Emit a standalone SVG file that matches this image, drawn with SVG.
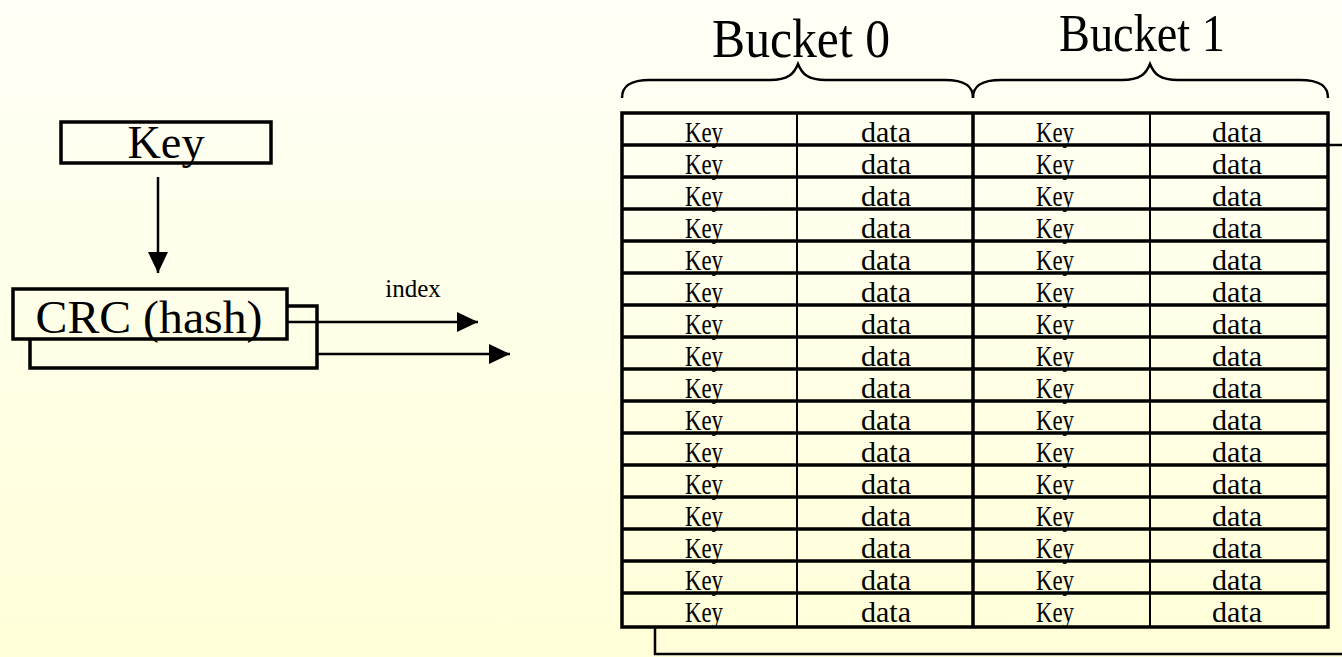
<svg xmlns="http://www.w3.org/2000/svg" width="1342" height="657" viewBox="0 0 1342 657">
<defs>
<linearGradient id="bg" gradientUnits="userSpaceOnUse" x1="0" y1="0" x2="0" y2="657">
<stop offset="0" stop-color="#FFFFF7"/>
<stop offset="1" stop-color="#FFFED8"/>
</linearGradient>
<marker id="ah" markerUnits="userSpaceOnUse" markerWidth="21" markerHeight="20" refX="21" refY="10" orient="auto">
<path d="M0,0 L21,10 L0,20 z" fill="#000"/>
</marker>
<style>
.t{font-family:"Liberation Serif","Times New Roman",serif;fill:#000}
.box{fill:url(#bg);stroke:#000;stroke-width:3.5}
.ln{fill:none;stroke:#000;stroke-width:2.5}
.c{font-family:"Liberation Serif","Times New Roman",serif;font-size:30px;text-anchor:middle;fill:#000}
.thin{stroke:#000;stroke-width:2}
.thick{stroke:#000;stroke-width:3.5}
</style>
</defs>
<rect x="0" y="0" width="1342" height="657" fill="url(#bg)"/>

<g id="key-node">
<rect class="box" x="61" y="122" width="210" height="41"/>
<text class="t" x="166" y="158" font-size="47" text-anchor="middle" textLength="77" lengthAdjust="spacingAndGlyphs">Key</text>
</g>

<g id="crc-node">
<rect class="box" x="30" y="306" width="287" height="62"/>
<rect class="box" x="13" y="289" width="274" height="50"/>
<text class="t" x="149" y="333" font-size="47" text-anchor="middle" textLength="227" lengthAdjust="spacingAndGlyphs">CRC (hash)</text>
</g>

<g id="index-label">
<text class="t" x="413" y="297" font-size="25" text-anchor="middle">index</text>
</g>

<g id="bucket-headers">
<text class="t" x="801" y="57" font-size="54" text-anchor="middle" textLength="178" lengthAdjust="spacingAndGlyphs">Bucket 0</text>
<text class="t" x="1142" y="51" font-size="52" text-anchor="middle" textLength="166" lengthAdjust="spacingAndGlyphs">Bucket 1</text>
<path class="ln" d="M622,98 C622,86 630,80 650,80 L770,80 C788,80 794,74 798,64 C802,74 808,80 826,80 L945,80 C965,80 973,86 973,98"/>
<path class="ln" d="M973,98 C973,86 981,80 1001,80 L1122,80 C1140,80 1146,74 1150,64 C1154,74 1160,80 1178,80 L1300,80 C1320,80 1328,86 1328,98"/>
</g>

<g id="table">
<rect x="622" y="113" width="706" height="514" fill="none" stroke="#000" stroke-width="3.5"/>
<line class="thin" x1="797" y1="113" x2="797" y2="627"/>
<line class="thick" x1="973" y1="113" x2="973" y2="627"/>
<line class="thin" x1="1150" y1="113" x2="1150" y2="627"/>
<g class="thick">
<line x1="622" y1="145" x2="1328" y2="145"/>
<line x1="622" y1="177" x2="1328" y2="177"/>
<line x1="622" y1="209" x2="1328" y2="209"/>
<line x1="622" y1="241" x2="1328" y2="241"/>
<line x1="622" y1="273" x2="1328" y2="273"/>
<line x1="622" y1="305" x2="1328" y2="305"/>
<line x1="622" y1="337" x2="1328" y2="337"/>
<line x1="622" y1="369" x2="1328" y2="369"/>
<line x1="622" y1="401" x2="1328" y2="401"/>
<line x1="622" y1="433" x2="1328" y2="433"/>
<line x1="622" y1="465" x2="1328" y2="465"/>
<line x1="622" y1="497" x2="1328" y2="497"/>
<line x1="622" y1="529" x2="1328" y2="529"/>
<line x1="622" y1="561" x2="1328" y2="561"/>
<line x1="622" y1="593" x2="1328" y2="593"/>
</g>
<g id="row-text">
<text class="c" x="704" y="142" textLength="38" lengthAdjust="spacingAndGlyphs">Key</text><text class="c" x="886" y="142" textLength="50" lengthAdjust="spacingAndGlyphs">data</text><text class="c" x="1055" y="142" textLength="38" lengthAdjust="spacingAndGlyphs">Key</text><text class="c" x="1237" y="142" textLength="50" lengthAdjust="spacingAndGlyphs">data</text>
<text class="c" x="704" y="174" textLength="38" lengthAdjust="spacingAndGlyphs">Key</text><text class="c" x="886" y="174" textLength="50" lengthAdjust="spacingAndGlyphs">data</text><text class="c" x="1055" y="174" textLength="38" lengthAdjust="spacingAndGlyphs">Key</text><text class="c" x="1237" y="174" textLength="50" lengthAdjust="spacingAndGlyphs">data</text>
<text class="c" x="704" y="206" textLength="38" lengthAdjust="spacingAndGlyphs">Key</text><text class="c" x="886" y="206" textLength="50" lengthAdjust="spacingAndGlyphs">data</text><text class="c" x="1055" y="206" textLength="38" lengthAdjust="spacingAndGlyphs">Key</text><text class="c" x="1237" y="206" textLength="50" lengthAdjust="spacingAndGlyphs">data</text>
<text class="c" x="704" y="238" textLength="38" lengthAdjust="spacingAndGlyphs">Key</text><text class="c" x="886" y="238" textLength="50" lengthAdjust="spacingAndGlyphs">data</text><text class="c" x="1055" y="238" textLength="38" lengthAdjust="spacingAndGlyphs">Key</text><text class="c" x="1237" y="238" textLength="50" lengthAdjust="spacingAndGlyphs">data</text>
<text class="c" x="704" y="270" textLength="38" lengthAdjust="spacingAndGlyphs">Key</text><text class="c" x="886" y="270" textLength="50" lengthAdjust="spacingAndGlyphs">data</text><text class="c" x="1055" y="270" textLength="38" lengthAdjust="spacingAndGlyphs">Key</text><text class="c" x="1237" y="270" textLength="50" lengthAdjust="spacingAndGlyphs">data</text>
<text class="c" x="704" y="302" textLength="38" lengthAdjust="spacingAndGlyphs">Key</text><text class="c" x="886" y="302" textLength="50" lengthAdjust="spacingAndGlyphs">data</text><text class="c" x="1055" y="302" textLength="38" lengthAdjust="spacingAndGlyphs">Key</text><text class="c" x="1237" y="302" textLength="50" lengthAdjust="spacingAndGlyphs">data</text>
<text class="c" x="704" y="334" textLength="38" lengthAdjust="spacingAndGlyphs">Key</text><text class="c" x="886" y="334" textLength="50" lengthAdjust="spacingAndGlyphs">data</text><text class="c" x="1055" y="334" textLength="38" lengthAdjust="spacingAndGlyphs">Key</text><text class="c" x="1237" y="334" textLength="50" lengthAdjust="spacingAndGlyphs">data</text>
<text class="c" x="704" y="366" textLength="38" lengthAdjust="spacingAndGlyphs">Key</text><text class="c" x="886" y="366" textLength="50" lengthAdjust="spacingAndGlyphs">data</text><text class="c" x="1055" y="366" textLength="38" lengthAdjust="spacingAndGlyphs">Key</text><text class="c" x="1237" y="366" textLength="50" lengthAdjust="spacingAndGlyphs">data</text>
<text class="c" x="704" y="398" textLength="38" lengthAdjust="spacingAndGlyphs">Key</text><text class="c" x="886" y="398" textLength="50" lengthAdjust="spacingAndGlyphs">data</text><text class="c" x="1055" y="398" textLength="38" lengthAdjust="spacingAndGlyphs">Key</text><text class="c" x="1237" y="398" textLength="50" lengthAdjust="spacingAndGlyphs">data</text>
<text class="c" x="704" y="430" textLength="38" lengthAdjust="spacingAndGlyphs">Key</text><text class="c" x="886" y="430" textLength="50" lengthAdjust="spacingAndGlyphs">data</text><text class="c" x="1055" y="430" textLength="38" lengthAdjust="spacingAndGlyphs">Key</text><text class="c" x="1237" y="430" textLength="50" lengthAdjust="spacingAndGlyphs">data</text>
<text class="c" x="704" y="462" textLength="38" lengthAdjust="spacingAndGlyphs">Key</text><text class="c" x="886" y="462" textLength="50" lengthAdjust="spacingAndGlyphs">data</text><text class="c" x="1055" y="462" textLength="38" lengthAdjust="spacingAndGlyphs">Key</text><text class="c" x="1237" y="462" textLength="50" lengthAdjust="spacingAndGlyphs">data</text>
<text class="c" x="704" y="494" textLength="38" lengthAdjust="spacingAndGlyphs">Key</text><text class="c" x="886" y="494" textLength="50" lengthAdjust="spacingAndGlyphs">data</text><text class="c" x="1055" y="494" textLength="38" lengthAdjust="spacingAndGlyphs">Key</text><text class="c" x="1237" y="494" textLength="50" lengthAdjust="spacingAndGlyphs">data</text>
<text class="c" x="704" y="526" textLength="38" lengthAdjust="spacingAndGlyphs">Key</text><text class="c" x="886" y="526" textLength="50" lengthAdjust="spacingAndGlyphs">data</text><text class="c" x="1055" y="526" textLength="38" lengthAdjust="spacingAndGlyphs">Key</text><text class="c" x="1237" y="526" textLength="50" lengthAdjust="spacingAndGlyphs">data</text>
<text class="c" x="704" y="558" textLength="38" lengthAdjust="spacingAndGlyphs">Key</text><text class="c" x="886" y="558" textLength="50" lengthAdjust="spacingAndGlyphs">data</text><text class="c" x="1055" y="558" textLength="38" lengthAdjust="spacingAndGlyphs">Key</text><text class="c" x="1237" y="558" textLength="50" lengthAdjust="spacingAndGlyphs">data</text>
<text class="c" x="704" y="590" textLength="38" lengthAdjust="spacingAndGlyphs">Key</text><text class="c" x="886" y="590" textLength="50" lengthAdjust="spacingAndGlyphs">data</text><text class="c" x="1055" y="590" textLength="38" lengthAdjust="spacingAndGlyphs">Key</text><text class="c" x="1237" y="590" textLength="50" lengthAdjust="spacingAndGlyphs">data</text>
<text class="c" x="704" y="622" textLength="38" lengthAdjust="spacingAndGlyphs">Key</text><text class="c" x="886" y="622" textLength="50" lengthAdjust="spacingAndGlyphs">data</text><text class="c" x="1055" y="622" textLength="38" lengthAdjust="spacingAndGlyphs">Key</text><text class="c" x="1237" y="622" textLength="50" lengthAdjust="spacingAndGlyphs">data</text>
</g>
</g>

<g id="connectors">
<line class="ln" x1="158" y1="177" x2="158" y2="273" marker-end="url(#ah)"/>
<line class="ln" x1="287" y1="322" x2="478" y2="322" marker-end="url(#ah)"/>
<line class="ln" x1="317" y1="354" x2="510" y2="354" marker-end="url(#ah)"/>
<line class="ln" x1="1328" y1="145" x2="1342" y2="145"/>
<polyline class="ln" points="655,627 655,654 1342,654" stroke-width="3"/>
</g>
</svg>
